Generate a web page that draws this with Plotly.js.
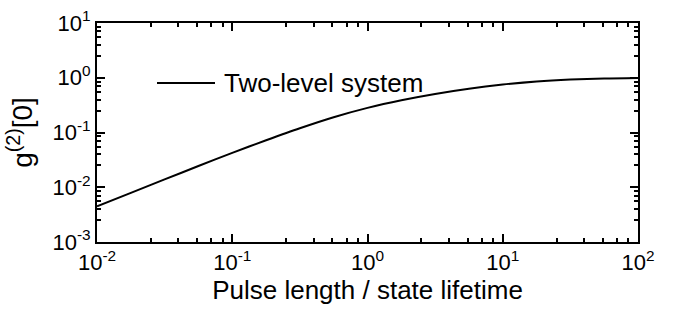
<!DOCTYPE html>
<html>
<head>
<meta charset="utf-8">
<script src="https://cdn.plot.ly/plotly-3.0.1.min.js"></script>
<style>html,body{margin:0;padding:0;background:#fff;}#chart{width:674px;height:312px;}</style>
</head>
<body>
<div id="chart"></div>
<script>
// Data
const pulseLength = [0.01, 0.0178, 0.0316, 0.0562, 0.1, 0.178, 0.316, 0.562, 1, 1.78, 3.16, 5.62, 10, 17.8, 31.6, 56.2, 100];
const g2zero = [0.0045, 0.0079, 0.0139, 0.0244, 0.0425, 0.0721, 0.1197, 0.1905, 0.2818, 0.389, 0.507, 0.631, 0.750, 0.855, 0.927, 0.971, 0.991];
const seriesName = 'Two-level system';

// Tick labels
const xTickVals = [0.01, 0.1, 1, 10, 100];
const xTickText = ['10<sup>-2</sup>', '10<sup>-1</sup>', '10<sup>0</sup>', '10<sup>1</sup>', '10<sup>2</sup>'];
const yTickVals = [0.001, 0.01, 0.1, 1, 10];
const yTickText = ['10<sup>-3</sup>', '10<sup>-2</sup>', '10<sup>-1</sup>', '10<sup>0</sup>', '10<sup>1</sup>'];
const minorFactors = [2.5, 4, 5.5, 7, 8.5];

function minorVals(decades) {
  const out = [];
  decades.forEach(d => minorFactors.forEach(f => out.push(d * f)));
  return out;
}

const FONT = '"Liberation Sans", Arial, sans-serif';

const trace = {
  x: pulseLength,
  y: g2zero,
  type: 'scatter',
  mode: 'lines',
  line: {color: '#000', width: 2, shape: 'spline', smoothing: 0.8},
  name: seriesName,
  showlegend: false,
  hoverinfo: 'skip'
};

const axisCommon = {
  type: 'log',
  showgrid: false,
  zeroline: false,
  showline: true,
  linecolor: '#000',
  linewidth: 2,
  mirror: 'allticks',
  ticks: 'inside',
  ticklen: 8,
  tickwidth: 2,
  tickcolor: '#000',
  tickmode: 'array',
  tickfont: {family: FONT, size: 22, color: '#000'},
  fixedrange: true
};

const layout = {
  width: 674,
  height: 312,
  margin: {l: 97, r: 36, t: 23, b: 70, pad: 0},
  paper_bgcolor: '#fff',
  plot_bgcolor: '#fff',
  font: {family: FONT, color: '#000'},
  showlegend: false,
  xaxis: Object.assign({}, axisCommon, {
    range: [-2, 2],
    tickvals: xTickVals,
    ticktext: xTickText,
    minor: {tickmode: 'array', tickvals: minorVals([0.01, 0.1, 1, 10]), ticks: 'inside', ticklen: 4, tickwidth: 2, tickcolor: '#000', showgrid: false},
    title: {text: 'Pulse length / state lifetime', font: {family: FONT, size: 26, color: '#000'}, standoff: 4}
  }),
  yaxis: Object.assign({}, axisCommon, {
    range: [-3, 1],
    tickvals: yTickVals,
    ticktext: yTickText,
    minor: {tickmode: 'array', tickvals: minorVals([0.001, 0.01, 0.1, 1]), ticks: 'inside', ticklen: 4, tickwidth: 2, tickcolor: '#000', showgrid: false},
    title: {text: 'g<sup>(2)</sup>[0]', font: {family: FONT, size: 28, color: '#000'}, standoff: 12}
  }),
  shapes: [{
    type: 'line', xref: 'paper', yref: 'paper',
    x0: (157 - 97) / 541, x1: (215 - 97) / 541,
    y0: (289 - 60 - 70) / 219, y1: (289 - 60 - 70) / 219,
    line: {color: '#000', width: 2}
  }],
  annotations: [{
    xref: 'paper', yref: 'paper',
    x: (222 - 97) / 541, y: (289 - 60 - 70) / 219,
    xanchor: 'left', yanchor: 'middle',
    text: seriesName, showarrow: false,
    font: {family: FONT, size: 26, color: '#000'}
  }]
};

Plotly.newPlot('chart', [trace], layout, {staticPlot: true, displayModeBar: false});
</script>
</body>
</html>
